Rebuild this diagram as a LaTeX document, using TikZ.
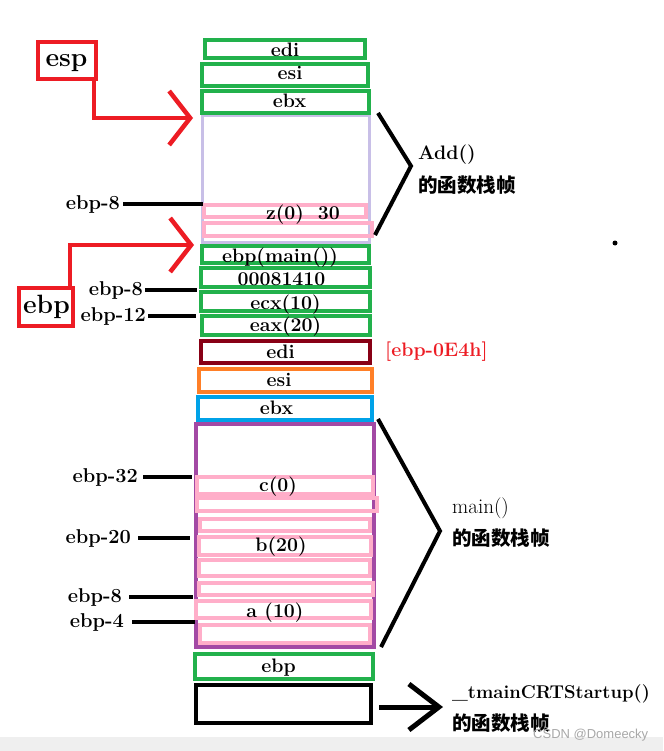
\documentclass[tikz,border=0pt]{standalone}
\usepackage{fontspec}
\newfontfamily\cjk{Noto Sans CJK SC}
\newfontfamily\wmfont{Liberation Sans}
\usetikzlibrary{arrows.meta}
\definecolor{grn}{HTML}{22B14C}
\definecolor{lav}{HTML}{C8BFE7}
\definecolor{pnk}{HTML}{FFAEC9}
\definecolor{dred}{HTML}{880015}
\definecolor{org}{HTML}{FF7F27}
\definecolor{blu}{HTML}{00A2E8}
\definecolor{pur}{HTML}{A349A4}
\definecolor{rd}{HTML}{ED1C24}
\definecolor{band}{HTML}{EFEFEF}
\definecolor{wm}{HTML}{A8A8A8}
\newcommand\heavy{\addfontfeature{FakeBold=3}}
\begin{document}
\begin{tikzpicture}[x=1pt,y=-1pt,
  fr/.style={draw=#1, line width=4pt, inner sep=0pt},
  tx/.style={anchor=base, inner sep=0pt, font=\fontsize{19.5}{22}\selectfont\bfseries\heavy},
  lab/.style={anchor=east, inner sep=0pt, font=\fontsize{20}{22}\selectfont\bfseries\heavy},
  big/.style={anchor=base, inner sep=0pt, font=\fontsize{26.5}{28}\selectfont\bfseries\heavy},
  cn/.style={anchor=west, inner sep=0pt, font=\fontsize{19.5}{22}\selectfont\cjk\bfseries},
  lead/.style={line width=4pt},
  brace/.style={line width=4pt},
  redarrow/.style={draw=rd, line width=4.5pt, -{Straight Barb[length=21pt,width=54pt]}},
  blkarrow/.style={line width=5pt, -{Straight Barb[length=30pt,width=46pt]}}]
\fill[white] (0,0) rectangle (663,751);
\useasboundingbox (0,0) rectangle (663,751);
\fill[band] (0,737) rectangle (663,751);

% ---- Add() frame ----
\node[fr=lav, line width=3pt, minimum width=167pt, minimum height=126pt] (addfr) at (286,179) {};
\node[fr=pnk, minimum width=162pt, minimum height=12pt] (zbox) at (285,211) {};
\node[fr=pnk, minimum width=168pt, minimum height=13pt] (zbox2) at (288,229.5) {};
\node[tx, anchor=base west] (zt) at (266,219) {z(0)\hspace{14pt}30};
\node[fr=grn, minimum width=160pt, minimum height=18pt] (edi1) at (285,49) {};
\node[fr=grn, minimum width=166pt, minimum height=22pt] (esi1) at (285,75) {};
\node[fr=grn, minimum width=167pt, minimum height=22pt] (ebx1) at (285.5,102) {};
\node[tx] (edi1t) at (285,57) {edi};
\node[tx] (esi1t) at (290,80) {esi};
\node[tx] (ebx1t) at (289.5,108) {ebx};

% ---- saved registers / return ----
\node[fr=grn, minimum width=167pt, minimum height=17pt] (ebpm) at (285.5,254.5) {};
\node[fr=grn, minimum width=169pt, minimum height=19pt] (ret) at (285.5,277.5) {};
\node[fr=grn, minimum width=169pt, minimum height=19pt] (ecx) at (285.5,301.5) {};
\node[fr=grn, minimum width=168pt, minimum height=19pt] (eax) at (286,325.5) {};
\node[tx] (ebpmt) at (280,262) {ebp(main())};
\node[tx] (rett) at (281.5,285) {00081410};
\node[tx] (ecxt) at (285.5,309) {ecx(10)};
\node[tx] (eaxt) at (285.5,331) {eax(20)};

% ---- main() frame ----
\node[fr=dred, minimum width=169pt, minimum height=22pt] (edi2) at (285.5,352) {};
\node[fr=org, minimum width=173pt, minimum height=23pt] (esi2) at (285.5,380.5) {};
\node[fr=pur, minimum width=178pt, minimum height=223pt] (mainfr) at (285,535.5) {};
\node[fr=blu, minimum width=174pt, minimum height=23pt] (ebx2) at (285,408.5) {};
\node[tx] (edi2t) at (280.5,358) {edi};
\node[tx] (esi2t) at (279,386) {esi};
\node[tx] (ebx2t) at (276.5,414) {ebx};
\node[tx, anchor=base west, text=rd] (offs) at (385,356) {[ebp-0E4h]};

\node[fr=pnk, minimum width=176pt, minimum height=17pt] (p1) at (285,485.5) {};
\node[fr=pnk, minimum width=180pt, minimum height=13pt] (p2) at (287,504.5) {};
\node[fr=pnk, minimum width=170pt, minimum height=12pt] (p3) at (285,525) {};
\node[fr=pnk, minimum width=172pt, minimum height=18pt] (p4) at (285,546) {};
\node[fr=pnk, minimum width=171pt, minimum height=16pt] (p5) at (284.5,568) {};
\node[fr=pnk, minimum width=174pt, minimum height=12pt] (p6) at (286,589) {};
\node[fr=pnk, minimum width=175pt, minimum height=17pt] (p7) at (283.5,609.5) {};
\node[fr=pnk, minimum width=170pt, minimum height=18pt] (p8) at (285,634) {};
\node[tx] (ct) at (278,491) {c(0)};
\node[tx] (bt) at (281,551) {b(20)};
\node[tx] (at) at (275,617) {a (10)};

% ---- bottom ----
\node[fr=grn, minimum width=178pt, minimum height=25pt] (ebp3) at (284,666.5) {};
\node[tx] (ebp3t) at (278.5,672) {ebp};
\node[draw, line width=4pt, inner sep=0pt, minimum width=175pt, minimum height=38pt] (blk) at (283.5,704) {};

% ---- left labels and leads ----
\node[lab] (L1) at (120,204) {ebp-8};
\node[lab] (L2) at (143,290) {ebp-8};
\node[lab] (L3) at (146,316) {ebp-12};
\node[lab] (L4) at (138,477) {ebp-32};
\node[lab] (L5) at (131,538) {ebp-20};
\node[lab] (L6) at (122,597) {ebp-8};
\node[lab] (L7) at (124,622) {ebp-4};
\coordinate (c1) at (203,204);
\coordinate (c2) at (197,290);
\coordinate (c3) at (196,316);
\coordinate (c4) at (192,477);
\coordinate (c5) at (190,538);
\coordinate (c6) at (193,597);
\coordinate (c7) at (195,622);
\draw[lead] ([xshift=3pt]L1.east) -- (c1);
\draw[lead] ([xshift=2pt]L2.east) -- (c2);
\draw[lead] ([xshift=2pt]L3.east) -- (c3);
\draw[lead] ([xshift=5pt]L4.east) -- (c4);
\draw[lead] ([xshift=7pt]L5.east) -- (c5);
\draw[lead] ([xshift=7pt]L6.east) -- (c6);
\draw[lead] ([xshift=8pt]L7.east) -- (c7);

% ---- esp / ebp pointers ----
\node[fr=rd, line width=4.5pt, minimum width=58pt, minimum height=37pt] (espb) at (67,60.5) {};
\node[big] (espt) at (66.5,67) {esp};
\node[fr=rd, line width=4.5pt, minimum width=54pt, minimum height=38pt] (ebpb) at (46,307) {};
\node[big] (ebpt) at (46.5,313) {ebp};
\coordinate (espX) at (94,0);
\coordinate (espTip) at (193,118);
\coordinate (ebpX) at (70,0);
\coordinate (ebpTip) at (194,245);
\draw[redarrow] (espb.south -| espX) |- (espTip);
\draw[redarrow] (ebpb.north -| ebpX) |- (ebpTip);

% ---- braces ----
\coordinate (a1) at (378,113);
\coordinate (a2) at (411,166);
\coordinate (a3) at (375,235);
\draw[brace] (a1) -- (a2) -- (a3);
\node[tx, anchor=base west] (addt) at (418,160) {Add()};
\node[cn] (addc) at (418,185) {的函数栈帧};

\coordinate (m1) at (378,419);
\coordinate (m2) at (440,531);
\coordinate (m3) at (381,647);
\draw[brace] (m1) -- (m2) -- (m3);
\node[tx, anchor=base west, font=\fontsize{21}{22}\selectfont\addfontfeature{FakeBold=1.5}] (maint) at (452,513) {main()};
\node[cn] (mainc) at (452,538) {的函数栈帧};

\coordinate (btip) at (443,707);
\draw[blkarrow] ([shift={(6pt,-3pt)}]blk.east) -- (btip);
\node[tx, anchor=base west, font=\fontsize{18.5}{22}\selectfont\bfseries\heavy] (crt) at (452,698) {\_tmainCRTStartup()};
\node[cn] (crtc) at (452,723) {的函数栈帧};

\fill (615,243) circle (2.5pt);
\node[anchor=west, inner sep=0pt, text=wm, font=\fontsize{13}{14}\selectfont\wmfont] (wmk) at (533,735) {CSDN @Domeecky};
\end{tikzpicture}
\end{document}
